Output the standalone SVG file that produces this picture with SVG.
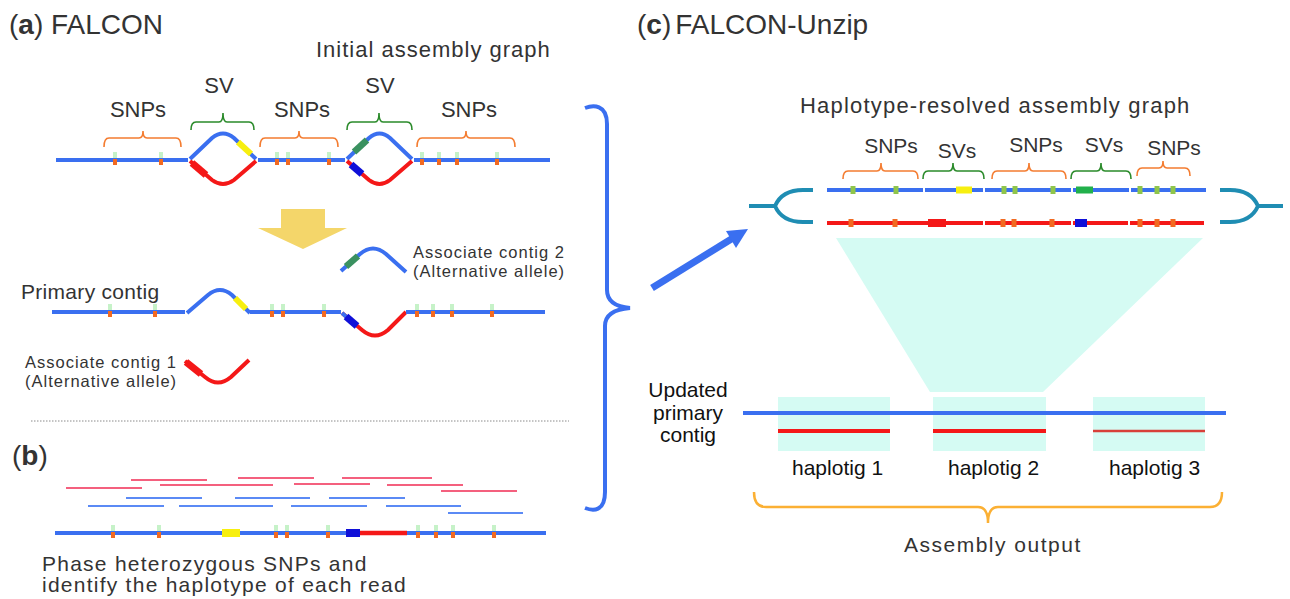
<svg xmlns="http://www.w3.org/2000/svg" xmlns:xlink="http://www.w3.org/1999/xlink" width="1290" height="599" viewBox="0 0 1290 599">
<style>
.t{font-family:"Liberation Sans",Arial,sans-serif;fill:#333}
.k{fill:#111}
.blue{stroke:#3a6ff0;stroke-width:4;fill:none}
.red{stroke:#f41818;stroke-width:4;fill:none}
.bo{stroke:#f47c30;stroke-width:1.6;fill:none}
.bg{stroke:#2a8a2a;stroke-width:1.6;fill:none}
.lg{fill:#c6f2c8}
.or{fill:#f26a21}
.gm{fill:#8fc54a}
.rp{stroke:#f4607e;stroke-width:2;fill:none}
.rb{stroke:#5b8af5;stroke-width:2;fill:none}
.teal{stroke:#1f8db3;stroke-width:4;fill:none}
.mint{fill:#d5fbf3}
.ac{font-size:16.5px;letter-spacing:1px}
</style>
<defs>
<g id="snp"><rect x="-2" y="-8" width="4" height="6" class="lg"/><rect x="-2" y="-1" width="4" height="6" class="or"/></g>
<rect id="gsnp" x="-2.5" y="-4" width="5" height="8" class="gm"/>
<rect id="osnp" x="-2.5" y="-4" width="5" height="8" class="or"/>
</defs>
<rect width="1290" height="599" fill="#fff"/>

<g id="panel-a">
<text class="t" x="9" y="34" font-size="28">(<tspan font-weight="bold">a</tspan>) FALCON</text>
<text class="t" x="316" y="57" font-size="22" letter-spacing="1">Initial assembly graph</text>
<g id="labels-a" class="t" font-size="22" text-anchor="middle">
<text x="219" y="93">SV</text>
<text x="380" y="93">SV</text>
<text x="138" y="117">SNPs</text>
<text x="302" y="117">SNPs</text>
<text x="469" y="117">SNPs</text>
</g>
<g id="braces-a">
<path class="bo" d="M104,147 Q104,138 109,138 L139,138 Q143,138 143,131 Q143,138 147,138 L176,138 Q181,138 181,147"/>
<path class="bg" d="M191,130 Q191,122 196,122 L219,122 Q223,122 223,113 Q223,122 227,122 L249,122 Q254,122 254,130"/>
<path class="bo" d="M260,147 Q260,138 265,138 L295,138 Q299,138 299,131 Q299,138 303,138 L333,138 Q338,138 338,147"/>
<path class="bg" d="M347,130 Q347,122 352,122 L375,122 Q379,122 379,113 Q379,122 383,122 L407,122 Q412,122 412,130"/>
<path class="bo" d="M417,147 Q417,138 422,138 L462,138 Q466,138 466,131 Q466,138 470,138 L510,138 Q515,138 515,147"/>
</g>
<g id="initial-graph">
<line class="blue" x1="56" y1="160" x2="188" y2="160"/>
<line class="blue" x1="258" y1="160" x2="345" y2="160"/>
<line class="blue" x1="414" y1="160" x2="550" y2="160"/>
<path class="blue" d="M190,159 L212,138 Q223,129 234,138 L256,159"/>
<path class="red" d="M190,161 L212,180 Q223,188 234,180 L256,161"/>
<line x1="238" y1="142" x2="251" y2="154" stroke="#f7ef0f" stroke-width="6"/>
<line x1="192" y1="163" x2="206" y2="175" stroke="#f41818" stroke-width="7"/>
<path class="blue" d="M347,159 L369,138 Q379.5,129 390,138 L412,159"/>
<path class="red" d="M347,161 L369,180 Q379.5,188 390,180 L412,161"/>
<line x1="354" y1="152" x2="367" y2="140" stroke="#3a9160" stroke-width="6.5"/>
<line x1="351" y1="164.5" x2="362" y2="174" stroke="#1010d8" stroke-width="7"/>
<use xlink:href="#snp" x="115" y="160"/>
<use xlink:href="#snp" x="161" y="160"/>
<use xlink:href="#snp" x="277" y="160"/>
<use xlink:href="#snp" x="288" y="160"/>
<use xlink:href="#snp" x="329" y="160"/>
<use xlink:href="#snp" x="422" y="160"/>
<use xlink:href="#snp" x="439" y="160"/>
<use xlink:href="#snp" x="457" y="160"/>
<use xlink:href="#snp" x="497" y="160"/>
</g>
<polygon id="yellow-arrow" points="281,209 325,209 325,228 347,228 303,249 258,228 281,228" fill="#f4d66a"/>
<g id="assoc-contig-2">
<path class="blue" d="M341,271 L360,254 Q373,243 386,254 L406,272"/>
<line x1="346" y1="266.5" x2="358" y2="256" stroke="#3a9160" stroke-width="6.5"/>
<text class="t ac" x="413" y="258">Associate contig 2</text>
<text class="t ac" x="413" y="277">(Alternative allele)</text>
</g>
<g id="primary-contig">
<text class="t" x="21" y="299" font-size="21" letter-spacing="0.3">Primary contig</text>
<line class="blue" x1="52" y1="312" x2="185" y2="312"/>
<path class="blue" d="M187,313 L208,295 Q220,285 232,295 L250,313"/>
<line x1="235" y1="298" x2="246" y2="309" stroke="#f7ef0f" stroke-width="6"/>
<line class="blue" x1="250" y1="312" x2="341" y2="312"/>
<path class="red" d="M342,313 L362,330 Q375,341 388,330 L406,312"/>
<line class="blue" x1="342" y1="313" x2="346.5" y2="317"/>
<line x1="346" y1="316.5" x2="357" y2="326" stroke="#1010d8" stroke-width="7"/>
<line class="blue" x1="406" y1="312" x2="545" y2="312"/>
<use xlink:href="#snp" x="110" y="312"/>
<use xlink:href="#snp" x="155" y="312"/>
<use xlink:href="#snp" x="272" y="312"/>
<use xlink:href="#snp" x="283" y="312"/>
<use xlink:href="#snp" x="324" y="312"/>
<use xlink:href="#snp" x="417" y="312"/>
<use xlink:href="#snp" x="433" y="312"/>
<use xlink:href="#snp" x="452" y="312"/>
<use xlink:href="#snp" x="492" y="312"/>
</g>
<g id="assoc-contig-1">
<text class="t ac" x="25" y="368">Associate contig 1</text>
<text class="t ac" x="25" y="387">(Alternative allele)</text>
<path class="red" d="M185,361 L205,377 Q218,388 231,377 L249,360"/>
<line x1="186" y1="362" x2="201" y2="374" stroke="#f41818" stroke-width="7"/>
</g>
<line id="separator" x1="31" y1="421" x2="569" y2="421" stroke="#8a8a8a" stroke-width="1" stroke-dasharray="1.5 1.5"/>
</g>

<g id="panel-b">
<text class="t" x="12" y="465" font-size="28">(<tspan font-weight="bold">b</tspan>)</text>
<g id="reads">
<line class="rp" x1="131" y1="480" x2="207" y2="480"/>
<line class="rp" x1="238" y1="478" x2="314" y2="478"/>
<line class="rp" x1="342" y1="478" x2="432" y2="478"/>
<line class="rp" x1="66" y1="488" x2="142" y2="488"/>
<line class="rp" x1="160" y1="485" x2="273" y2="485"/>
<line class="rp" x1="294" y1="484" x2="370" y2="484"/>
<line class="rp" x1="387" y1="485" x2="463" y2="485"/>
<line class="rp" x1="441" y1="491" x2="517" y2="491"/>
<line class="rb" x1="126" y1="498" x2="202" y2="498"/>
<line class="rb" x1="235" y1="498" x2="310" y2="498"/>
<line class="rb" x1="329" y1="498" x2="405" y2="498"/>
<line class="rb" x1="88" y1="506" x2="164" y2="506"/>
<line class="rb" x1="179" y1="506" x2="273" y2="506"/>
<line class="rb" x1="291" y1="506" x2="367" y2="506"/>
<line class="rb" x1="386" y1="506" x2="461" y2="506"/>
<line class="rb" x1="448" y1="513" x2="523" y2="513"/>
</g>
<g id="phased-contig">
<line class="blue" x1="55" y1="533" x2="546" y2="533"/>
<line x1="360" y1="533" x2="407" y2="533" stroke="#f41818" stroke-width="4.5"/>
<rect x="222" y="529" width="18" height="8" fill="#f7ef0f"/>
<rect x="346" y="529" width="14" height="8" fill="#1010d8"/>
<use xlink:href="#snp" x="113" y="533"/>
<use xlink:href="#snp" x="159" y="533"/>
<use xlink:href="#snp" x="276" y="533"/>
<use xlink:href="#snp" x="287" y="533"/>
<use xlink:href="#snp" x="328" y="533"/>
<use xlink:href="#snp" x="418" y="533"/>
<use xlink:href="#snp" x="436" y="533"/>
<use xlink:href="#snp" x="453" y="533"/>
<use xlink:href="#snp" x="494" y="533"/>
</g>
<text class="t" x="42" y="571" font-size="21" letter-spacing="1.25">Phase heterozygous SNPs and</text>
<text class="t" x="42" y="592" font-size="21" letter-spacing="1.25">identify the haplotype of each read</text>
</g>

<g id="connectors">
<path d="M585,108 C593,105 607,104 607,124 L607,290 Q607,306 630,308 Q605,310 605,326 L605,492 C605,512 593,511 585,508" stroke="#3a6ff0" stroke-width="4" fill="none"/>
<line x1="652" y1="288" x2="733" y2="238" stroke="#3a6ff0" stroke-width="7"/>
<polygon points="748,229 736,248 726,231" fill="#3a6ff0"/>
</g>

<g id="panel-c">
<text class="t" x="637" y="34" font-size="28">(<tspan font-weight="bold">c</tspan>)<tspan dx="4">FALCON-Unzip</tspan></text>
<polygon id="zoom-fan" class="mint" points="836,238 1203,238 1043,392 930,392"/>
<text class="t" x="800" y="113" font-size="22" letter-spacing="1.2">Haplotype-resolved assembly graph</text>
<g id="labels-c" class="t" font-size="21" text-anchor="middle">
<text x="891" y="153">SNPs</text>
<text x="957" y="158">SVs</text>
<text x="1036" y="152">SNPs</text>
<text x="1104" y="152">SVs</text>
<text x="1174" y="155">SNPs</text>
</g>
<g id="braces-c">
<path class="bo" d="M843,179 Q843,171 848,171 L877,171 Q881,171 881,163 Q881,171 885,171 L913,171 Q918,171 918,179"/>
<path class="bg" d="M923,179 Q923,171 928,171 L949,171 Q953,171 953,163 Q953,171 957,171 L979,171 Q984,171 984,179"/>
<path class="bo" d="M992,179 Q992,171 997,171 L1025,171 Q1029,171 1029,163 Q1029,171 1033,171 L1061,171 Q1066,171 1066,179"/>
<path class="bg" d="M1071,179 Q1071,171 1076,171 L1097,171 Q1101,171 1101,163 Q1101,171 1105,171 L1126,171 Q1131,171 1131,179"/>
<path class="bo" d="M1137,176 Q1137,168 1142,168 L1159,168 Q1163,168 1163,161 Q1163,168 1167,168 L1185,168 Q1190,168 1190,176"/>
</g>
<g id="haplotype-graph">
<line class="blue" x1="827" y1="190" x2="923" y2="190"/>
<line class="blue" x1="925" y1="190" x2="983" y2="190"/>
<line class="blue" x1="985" y1="190" x2="1071" y2="190"/>
<line class="blue" x1="1073" y1="190" x2="1129" y2="190"/>
<line class="blue" x1="1131" y1="190" x2="1206" y2="190"/>
<line class="red" x1="827" y1="223" x2="983" y2="223"/>
<line class="red" x1="985" y1="223" x2="1071" y2="223"/>
<line class="red" x1="1073" y1="223" x2="1128" y2="223"/>
<line class="red" x1="1130" y1="223" x2="1204" y2="223"/>
<rect x="956" y="186.5" width="16" height="7" fill="#f7ef0f"/>
<rect x="1076" y="186.5" width="17" height="7" fill="#22b04b"/>
<rect x="928" y="219" width="18" height="8" fill="#f41818"/>
<rect x="1075" y="219" width="12" height="8" fill="#1010d8"/>
<use xlink:href="#gsnp" x="853" y="190"/>
<use xlink:href="#gsnp" x="896" y="190"/>
<use xlink:href="#gsnp" x="1004" y="190"/>
<use xlink:href="#gsnp" x="1015" y="190"/>
<use xlink:href="#gsnp" x="1053" y="190"/>
<use xlink:href="#gsnp" x="1140" y="190"/>
<use xlink:href="#gsnp" x="1157" y="190"/>
<use xlink:href="#gsnp" x="1173" y="190"/>
<use xlink:href="#osnp" x="851" y="223"/>
<use xlink:href="#osnp" x="895" y="223"/>
<use xlink:href="#osnp" x="1003" y="223"/>
<use xlink:href="#osnp" x="1014" y="223"/>
<use xlink:href="#osnp" x="1052" y="223"/>
<use xlink:href="#osnp" x="1140" y="223"/>
<use xlink:href="#osnp" x="1157" y="223"/>
<use xlink:href="#osnp" x="1173" y="223"/>
<path class="teal" d="M749,206 L775,206 M813,190 L803,190 Q782,190 775,206 Q782,222 803,222 L813,222"/>
<path class="teal" d="M1283,206 L1258,206 M1220,190 L1230,190 Q1251,190 1258,206 Q1251,222 1230,222 L1220,222"/>
</g>
<g id="haplotigs">
<rect class="mint" x="778" y="397" width="112" height="54"/>
<rect class="mint" x="933" y="397" width="113" height="54"/>
<rect class="mint" x="1093" y="397" width="112" height="54"/>
<line class="blue" x1="743" y1="413" x2="1226" y2="413"/>
<line class="red" x1="778" y1="431" x2="890" y2="431"/>
<line class="red" x1="933" y1="431" x2="1046" y2="431"/>
<line x1="1093" y1="431" x2="1205" y2="431" stroke="#d8403a" stroke-width="2.5"/>
<g class="t k" font-size="21" text-anchor="middle">
<text x="688" y="397">Updated</text>
<text x="688" y="420">primary</text>
<text x="688" y="442">contig</text>
</g>
<text class="t k" x="792" y="475" font-size="21">haplotig 1</text>
<text class="t k" x="948" y="475" font-size="21">haplotig 2</text>
<text class="t k" x="1109" y="475" font-size="21">haplotig 3</text>
</g>
<path id="output-brace" d="M754,492 Q754,507 766,507 L978,507 Q988,507 988,523 Q988,507 998,507 L1210,507 Q1222,507 1222,492" stroke="#fbb034" stroke-width="2.5" fill="none"/>
<text class="t" x="904" y="552" font-size="21" letter-spacing="1.5">Assembly output</text>
</g>
</svg>
